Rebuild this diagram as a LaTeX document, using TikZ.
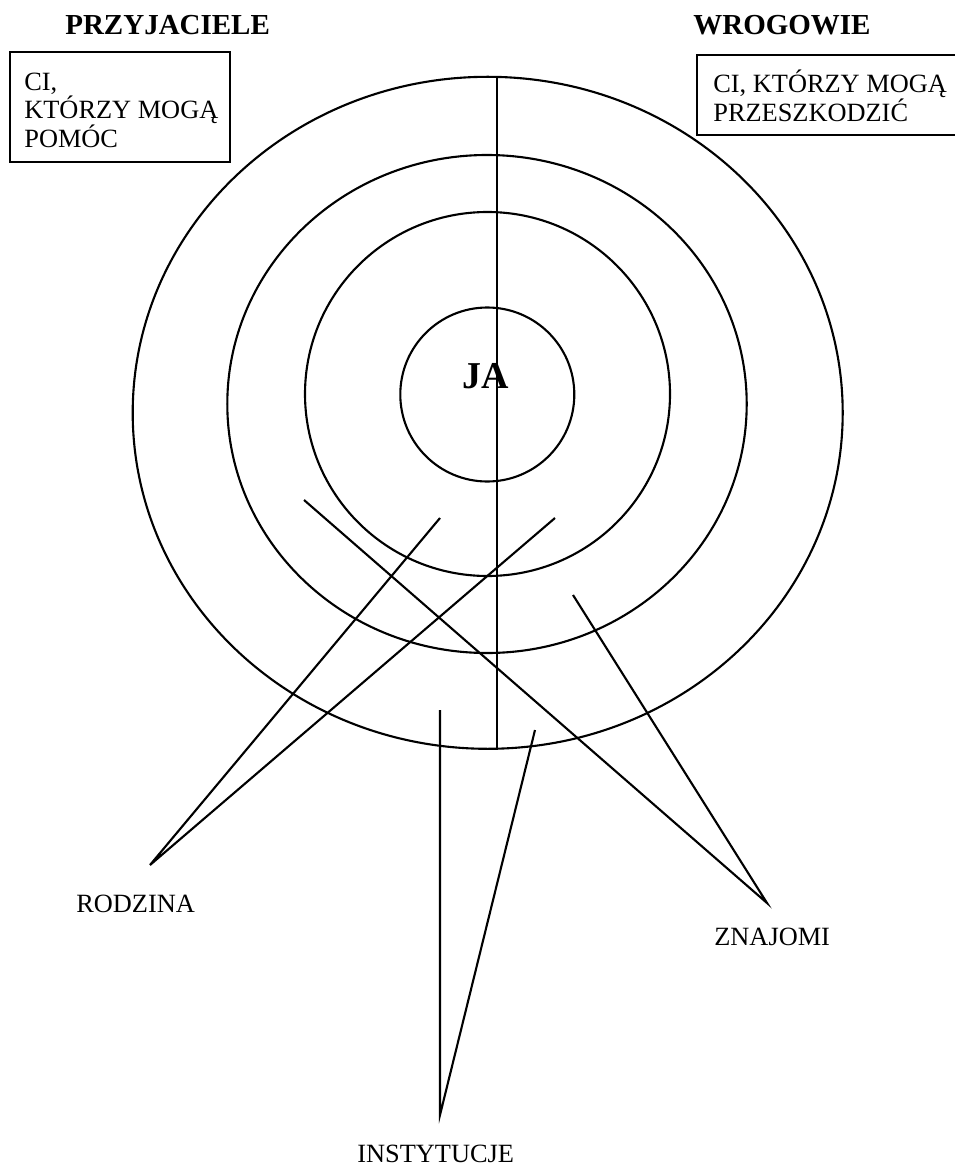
\documentclass[tikz,border=0pt]{standalone}
\usepackage{fontspec}
\setmainfont{Liberation Serif}
\usepackage{tikz}
\usetikzlibrary{positioning,calc}

\tikzset{
    ring/.style={line width=1.2pt},
    link/.style={line width=1.2pt},
    framebox/.style={line width=0.9pt},
    plainlabel/.style={anchor=base west, inner sep=0pt,
        font=\fontsize{15}{15.1}\selectfont, align=left},
    headlabel/.style={anchor=base west, inner sep=0pt,
        font=\fontsize{16.5}{17}\selectfont\bfseries},
}

\begin{document}
\begin{tikzpicture}[x=0.02cm, y=-0.02cm]
\useasboundingbox (0,0) rectangle (955,1169);
\clip (0,0) rectangle (955,1169);

% kręgi
\coordinate (centre) at (487.5,394);
\draw[ring] (487.7,412.8) ellipse [x radius=355, y radius=336];
\draw[ring] (487,404) ellipse [x radius=259.7, y radius=249];
\draw[ring] (centre) ellipse [x radius=182.5, y radius=182];
\draw[ring] (487.3,394.5) circle [radius=87];

\coordinate (splittop) at (497,77);
\coordinate (splitbot) at (497,750);
\draw[ring] (splittop) -- (splitbot);

\node[anchor=base west, inner sep=0pt,
    font=\fontsize{21.6}{22}\selectfont\bfseries] (me) at (462,388) {JA};

% nagłówki i ramki
\node[headlabel] (friends) at (65,35) {PRZYJACIELE};
\node[headlabel] (enemies) at (693,35) {WROGOWIE};

\draw[framebox] (10,52) rectangle (230,162);
\node[plainlabel] (friendstext) at (24,148) {CI,\\KTÓRZY MOGĄ\\POMÓC};

\draw[framebox] (697,55) rectangle (962,135);
\node[plainlabel] (enemiestext) at (713,122) {CI, KTÓRZY MOGĄ\\PRZESZKODZIĆ};

% podpisy
\node[plainlabel] (family) at (76,912) {RODZINA};
\node[plainlabel] (friendsof) at (714,945) {ZNAJOMI};
\node[plainlabel] (institutions) at (357,1162) {INSTYTUCJE};

\coordinate (familytip) at (150,865);
\coordinate (familyA) at (440,518);
\coordinate (familyB) at (555,518);
\coordinate (friendsoftip) at (767,903);
\coordinate (friendsofA) at (304,500);
\coordinate (friendsofB) at (573,595);
\coordinate (institutionstip) at (440,1115);
\coordinate (institutionsA) at (440,710);
\coordinate (institutionsB) at (535,730);

\draw[link] (familyA) -- (familytip) -- (familyB);
\draw[link] (friendsofA) -- (friendsoftip) -- (friendsofB);
\draw[link] (institutionsA) -- (institutionstip) -- (institutionsB);
\end{tikzpicture}
\end{document}
